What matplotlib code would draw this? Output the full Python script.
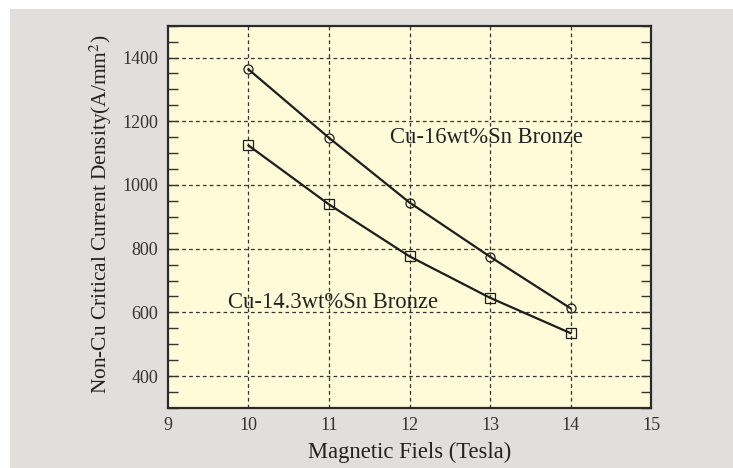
import matplotlib
matplotlib.use('Agg')
from matplotlib import pyplot as plt
from matplotlib.patches import Rectangle
from matplotlib.ticker import MultipleLocator

# data
FIELDS = [10, 11, 12, 13, 14]
JC_16SN = [1363, 1148, 945, 775, 613]
JC_143SN = [1124, 939, 776, 646, 535]

X_TICKS = [9, 10, 11, 12, 13, 14, 15]
Y_TICKS = [400, 600, 800, 1000, 1200, 1400]

W, H = 733, 468
plt.rcParams['font.family'] = ['Liberation Serif', 'DejaVu Serif']
plt.rcParams['mathtext.fontset'] = 'stix'

fig = plt.figure(figsize=(W / 100, H / 100), dpi=100)
fig.patch.set_facecolor('white')
fig.patches.append(Rectangle((10 / W, 0), 1, 1 - 9 / H, transform=fig.transFigure,
                             facecolor='#e2dedb', edgecolor='none', zorder=-10))

ax = fig.add_axes([168 / W, 1 - 408 / H, (651 - 168) / W, (408 - 25.7) / H])
ax.set_facecolor('#fffad8')

ax.plot(FIELDS, JC_16SN, '-o', color='#1e1e1e', lw=1.6, ms=6.5,
        mfc='none', mec='#1e1e1e', mew=0.9)
ax.plot(FIELDS, JC_143SN, '-s', color='#1e1e1e', lw=1.6, ms=6.5,
        mfc='none', mec='#1e1e1e', mew=0.9)

ax.set_xlim(9, 15)
ax.set_ylim(300, 1500)
ax.set_xticks(X_TICKS)
ax.set_yticks(Y_TICKS)
ax.yaxis.set_minor_locator(MultipleLocator(50))
ax.tick_params(axis='y', which='both', direction='in', length=7, width=1,
               right=True, pad=7, labelsize=13, colors='#333333')
ax.tick_params(axis='x', which='both', length=0, pad=6.5, labelsize=13,
               colors='#333333')

for x in FIELDS:
    ax.axvline(x, color='#333333', lw=0.9, ls=(0, (3, 2.5)), zorder=1)
for y in Y_TICKS:
    ax.axhline(y, color='#333333', lw=0.9, ls=(0, (3, 2.5)), zorder=1)

for s in ax.spines.values():
    s.set_linewidth(1.6)
    s.set_color('#2a2a2a')

ax.text(11.76, 1150, 'Cu-16wt%Sn Bronze', fontsize=16.3, va='center',
        ha='left', color='#222222')
ax.text(9.745, 632, 'Cu-14.3wt%Sn Bronze', fontsize=16.3, va='center',
        ha='left', color='#222222')

fig.text(410 / W, 1 - 452 / H, 'Magnetic Fiels (Tesla)', fontsize=16.3,
         ha='center', va='center', color='#222222')
fig.text(101 / W, 1 - 214 / H, 'Non-Cu Critical Current Density(A/mm$^2$)',
         fontsize=15.4, rotation=90, ha='center', va='center', color='#222222')

fig.savefig('out.png', dpi=100)
